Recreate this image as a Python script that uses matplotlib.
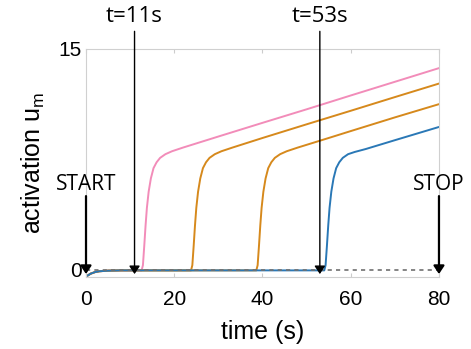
import matplotlib
matplotlib.use("Agg")
import matplotlib.pyplot as plt

# baseline shared by all curves (small initial dip)
base_t = [0.0, 0.5, 1.0, 2.0, 3.0, 5.0, 8.0]
base_u = [-0.45, -0.38, -0.28, -0.17, -0.11, -0.07, -0.05]

pink_t = base_t + [12.6, 12.9, 13.2, 13.5, 13.8, 14.2, 14.7, 15.3, 16.0, 16.8, 18.0, 19.5, 22.0, 30.0, 40.0, 50.0, 60.0, 70.0, 80.0]
pink_u = base_u + [-0.05, 0.3, 1.6, 3.0, 4.2, 5.3, 6.2, 6.9, 7.3, 7.6, 7.85, 8.05, 8.3, 9.05, 9.98, 10.9, 11.84, 12.77, 13.7]

orange1_t = base_t + [23.8, 24.1, 24.4, 24.7, 25.0, 25.4, 25.9, 26.5, 27.2, 28.0, 29.2, 30.7, 33.2, 40.0, 50.0, 60.0, 70.0, 80.0]
orange1_u = base_u + [-0.05, 0.3, 1.6, 3.0, 4.2, 5.3, 6.2, 6.9, 7.3, 7.6, 7.85, 8.05, 8.3, 8.95, 9.88, 10.8, 11.73, 12.65]

orange2_t = base_t + [38.6, 38.9, 39.2, 39.5, 39.8, 40.2, 40.7, 41.3, 42.0, 42.8, 44.0, 45.5, 48.0, 55.0, 60.0, 70.0, 80.0]
orange2_u = base_u + [-0.05, 0.3, 1.6, 3.0, 4.2, 5.3, 6.2, 6.9, 7.3, 7.6, 7.85, 8.05, 8.3, 8.95, 9.42, 10.35, 11.25]

blue_t = base_t + [54.0, 54.3, 54.6, 54.9, 55.2, 55.6, 56.1, 56.7, 57.4, 58.2, 59.4, 60.9, 63.4, 70.0, 75.0, 80.0]
blue_u = base_u + [-0.05, 0.3, 1.6, 3.0, 4.2, 5.3, 6.2, 6.9, 7.3, 7.6, 7.85, 8.0, 8.2, 8.8, 9.25, 9.7]

xticks = [0, 20, 40, 60, 80]
yticks = [0, 15]

events = [(11, "t=11s"), (53, "t=53s")]
ends = [(0, "START"), (80, "STOP")]

plt.rcParams['mathtext.fontset'] = 'custom'
plt.rcParams['mathtext.rm'] = 'Liberation Sans'

fig = plt.figure(figsize=(4.71, 3.49), dpi=100)
ax = fig.add_axes([0.1826, 0.2063, 0.7494, 0.6533])

ax.plot(pink_t, pink_u, color='#f28cb9', lw=1.4)
ax.plot(orange1_t, orange1_u, color='#d6891c', lw=1.4)
ax.plot(orange2_t, orange2_u, color='#d6891c', lw=1.4)
ax.plot(blue_t, blue_u, color='#2a78b6', lw=1.4)
ax.plot([0, 80], [0, 0], color='#707070', lw=1.2, ls=(0, (2.5, 2.5)))

arrow = dict(arrowstyle='-|>,head_length=0.6,head_width=0.4', color='black', lw=1.0,
             mutation_scale=8, shrinkA=0, shrinkB=0)
arrow_bold = dict(arrow, lw=1.6)
for x, lab in events:
    ax.annotate('', xy=(x, -0.3), xytext=(x, 16.2), arrowprops=arrow, annotation_clip=False)
    ax.text(x, 17.2, lab, ha='center', va='center', fontsize=16, family='Open Sans', clip_on=False)
for x, lab in ends:
    ax.annotate('', xy=(x, -0.3), xytext=(x, 5.0), arrowprops=arrow_bold, annotation_clip=False)
    ax.text(x, 5.8, lab, ha='center', va='center', fontsize=15, family='Open Sans', clip_on=False)

ax.set_xlim(0, 80)
ax.set_ylim(-0.5, 15)
ax.set_xticks(xticks)
ax.set_yticks(yticks)
ax.tick_params(axis='x', direction='in', top=True, length=3, color='#cccccc',
               labelsize=15, pad=9)
ax.tick_params(axis='y', length=0, labelsize=15, pad=3)
for lbl in ax.get_xticklabels() + ax.get_yticklabels():
    lbl.set_family('Liberation Sans')
for s in ax.spines.values():
    s.set_color('#d0d0d0')
    s.set_linewidth(0.8)

ax.set_xlabel('time (s)', fontsize=18, family='Liberation Sans', labelpad=8)
ax.set_ylabel(r'activation u$_{\mathregular{m}}$', fontsize=18, family='Liberation Sans', labelpad=8)

fig.savefig('out.png', dpi=100)
